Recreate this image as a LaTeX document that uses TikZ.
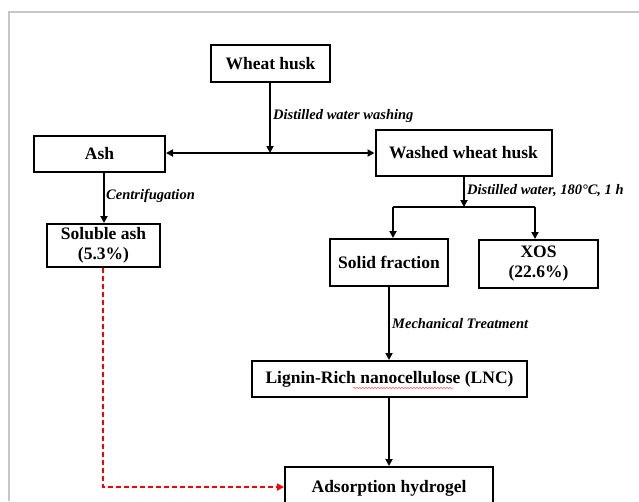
\documentclass[tikz,border=0pt]{standalone}
\usepackage{fontspec}
\setmainfont{Liberation Serif}
\usetikzlibrary{arrows.meta,decorations.pathmorphing}
\tikzset{
  box/.style={draw=black, line width=2pt, fill=white, inner sep=2pt, align=center,
    font=\fontsize{17.5}{20}\selectfont\bfseries},
  lbl/.style={anchor=west, inner sep=0pt, font=\fontsize{14.5}{16}\selectfont\bfseries\itshape},
  tip/.style={-{Triangle[length=7pt,width=7pt]}},
  conn/.style={line width=1.8pt, tip},
  plainconn/.style={line width=1.8pt},
  redconn/.style={line width=1.8pt, draw=red, dash pattern=on 5pt off 3pt, -{Triangle[length=7pt,width=7pt,fill=red]}},
  frame/.style={draw=black!22, line width=1.2pt}
}
\begin{document}
\begin{tikzpicture}[x=1pt,y=-1pt]
\useasboundingbox (0,0) rectangle (639,501);
\draw[frame] (9,501) -- (9,12) -- (639,12);
% nodes
\node[box, minimum width=119pt, minimum height=37pt] (wheat) at (270.5,63.5) {Wheat husk};
\node[box, minimum width=131pt, minimum height=36pt] (ash) at (99.5,154) {Ash};
\node[box, minimum width=176pt, minimum height=46pt] (washed) at (463.5,153) {Washed wheat husk};
\node[box, minimum width=113pt, minimum height=43pt] (soluble) at (103.5,245.5) {Soluble ash\\(5.3\%)};
\node[box, minimum width=118pt, minimum height=47pt] (solid) at (389,262.5) {Solid fraction};
\node[box, minimum width=119pt, minimum height=48pt] (xos) at (538.5,264) {XOS\\(22.6\%)};
\node[box, minimum width=275pt, minimum height=36pt] (lnc) at (389.5,379) {Lignin-Rich nanocellulose (LNC)};
\node[box, minimum width=208pt, minimum height=42pt] (ads) at (389,488) {Adsorption hydrogel};
% junction coordinates
\coordinate (j1) at (270,153);
\coordinate (j2) at (464,207);
\coordinate (sl) at (393,207);
\coordinate (sr) at (535,207);
\coordinate (rc) at (103,487);
% connectors
\draw[conn] (wheat.south -| j1) -- (j1);
\draw[line width=1.8pt, {Triangle[length=7pt,width=7pt]}-{Triangle[length=7pt,width=7pt]}] (ash.east |- j1) -- (washed.west |- j1);
\draw[conn] (ash.south -| 104,0) -- (soluble.north -| 104,0);
\draw[conn] (washed.south -| j2) -- (j2);
\draw[plainconn] (sl) -- (sr);
\draw[conn] (sl) -- (solid.north -| sl);
\draw[conn] (sr) -- (xos.north -| sr);
\draw[conn] (solid.south) -- (lnc.north -| solid.south);
\draw[conn] (lnc.south -| solid.south) -- (ads.north -| solid.south);
\draw[redconn] (soluble.south -| rc) -- (rc) -- (ads.west |- rc);
% labels
\node[lbl] (l1) at (273,116) {Distilled water washing};
\node[lbl] (l2) at (106,196) {Centrifugation};
\node[lbl] (l3) at (467,191) {Distilled water, 180°C, 1 h};
\node[lbl] (l4) at (392,324) {Mechanical Treatment};
% spell-check underline
\draw[red!60, line width=0.6pt, decorate, decoration={snake, amplitude=0.8pt, segment length=3pt}] (353,388) -- (453,388);
\end{tikzpicture}
\end{document}
